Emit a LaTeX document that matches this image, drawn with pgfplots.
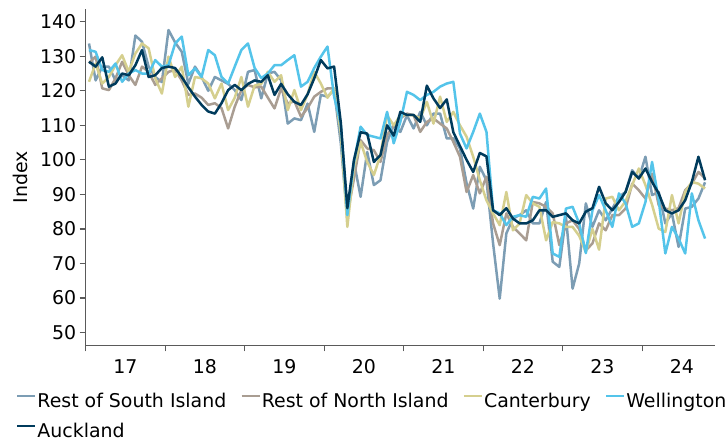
\documentclass[border=0pt]{standalone}
\usepackage{pgfplots}
\pgfplotsset{compat=1.18}
\usepackage{pgfplotstable}
\usepackage{fontspec}
\setmainfont{DejaVu Sans}
\definecolor{crsi}{RGB}{124,157,180}
\definecolor{crni}{RGB}{169,157,146}
\definecolor{ccan}{RGB}{213,207,142}
\definecolor{cwel}{RGB}{84,196,234}
\definecolor{cakl}{RGB}{0,59,92}
\definecolor{caxis}{RGB}{90,90,90}
\pgfplotstableread{
i rsi rni can wel akl
0 133.7 128 122.6 131.8 128.4
1 123 129.9 127.9 131.3 127
2 127 120.7 122.1 126 129.7
3 127 120.2 124 125.5 121.2
4 123 123.6 127.4 127.9 122.1
5 124.5 128.4 130.3 122.6 125
6 123 124.5 125.5 125 124.5
7 136 121.7 130.8 126 127.4
8 134.2 127 133.7 125 131.8
9 127 125.5 132.3 125 124
10 124 121.7 123.6 128.9 124.5
11 122.5 123.6 119.2 127 126.6
12 137.6 125.5 129.9 127.4 127
13 134 126 124 133.7 126.6
14 131.3 123 127 135.7 124
15 122 118.8 115.4 124.5 121
16 127 119.2 124 126.5 118.3
17 124 118 123.6 124 115.9
18 120 115.9 122.1 131.8 114
19 124 116.4 117.8 130.3 113.4
20 123 115 122.1 124 116.4
21 122 109.1 114.4 122.1 120.2
22 120.2 115.4 118 127 121.7
23 117.3 120.2 124 131.8 120.2
24 125.5 121.7 115.4 133.7 122
25 126 121 121.5 126.6 123
26 117.8 121.2 122 123.7 122.6
27 125 118 125.5 125 124.5
28 125.5 114.9 122.6 127.4 118.8
29 123.1 120.7 124.5 127.4 122
30 110.5 116.3 114.4 128.9 119
31 112 117 120.2 130.3 116.8
32 111.5 112.5 114.4 121.2 115.9
33 116.3 115 119 122.6 119
34 108.1 118.3 125.5 126.6 123.6
35 118.8 119.7 122.1 129.9 128.9
36 118.3 120.7 118 132.8 126.5
37 120.2 120.7 120.7 118.3 127
38 105 110 108 110.5 111
39 83 84 80.6 84 86
40 99.4 94.6 98 99.4 100
41 89.3 105.7 105.2 109.6 108
42 102.3 103.3 99.4 107.2 107.6
43 92.7 102.8 95.6 106.7 99.4
44 94.1 99.4 101.4 106.2 101.4
45 105.2 107.2 112.9 113.9 110
46 110 110 110 104.8 107
47 108.1 112 112.9 111 113.9
48 112.9 113.4 113 119.7 113
49 109.1 112.9 112.9 118.8 113
50 113.9 108.1 112 117.3 111
51 110 111 116.8 118.8 121.5
52 113.4 112 110.5 119.7 117.8
53 113.4 110.5 118.3 121.2 115
54 106.2 109.1 111 122.1 117.5
55 106.2 105.2 113.9 122.6 108
56 103.3 100.9 110 107.6 104
57 93.2 90.7 106.7 103.3 100
58 85.9 95.6 100.9 108.1 96.5
59 98 90.3 94.1 113.4 102
60 94.1 95.1 88.3 108.1 101
61 75.8 81.6 84.5 85.4 85.4
62 59.8 75.3 81.1 84.5 84
63 78.7 84.5 90.7 81.1 86
64 83 80.6 79.6 83.5 83
65 84 78.7 81.6 84 81.6
66 85.4 76.7 89.8 83.5 81.6
67 81.6 87.8 87.4 89.3 82.5
68 81.6 87.4 86.4 88.8 85.4
69 87.8 86.4 76.7 91.7 85.4
70 70.5 84.5 82 72.9 83.5
71 69 75.3 81.6 71.9 84
72 83.5 81.6 80.6 85.9 84.5
73 62.7 82.5 80.6 86.4 82.5
74 70 80 78 81.6 81.6
75 87.4 73.8 73.3 73 85
76 80.6 75.8 80 85.4 86
77 85.4 81.6 74 89.8 92.2
78 82.5 79.6 88.8 85.4 87.4
79 85.9 84 89.3 80.6 85.4
80 89.3 84 85.4 90.3 87.8
81 90.7 85.9 88 87.4 90.7
82 97 93.1 92.7 80.6 96.5
83 94.6 91.2 97.5 81.6 94.6
84 100.9 88.8 92.7 87.8 97.5
85 89.8 96 87 99.4 93.6
86 90.7 86.9 80.1 88.3 90.3
87 81.6 85.9 79.1 72.9 85.4
88 84.5 85.4 89.8 80.6 84.5
89 74.8 86 81.6 77.2 85.4
90 85.9 91.2 90.7 72.9 88.3
91 86.4 93.1 93.6 90.3 93.6
92 88.8 96.5 93.1 82.5 100.9
93 93.5 94.6 91.7 77.2 94.1
}\data
\begin{document}
\begin{tikzpicture}
\path[use as bounding box] (-85.7bp,-99.7bp) rectangle (642.3bp,345.3bp);
\begin{axis}[
  at={(0,0)}, anchor=south west,
  scale only axis, width=629.3bp, height=336bp,
  xmin=0, xmax=95, ymin=46.3, ymax=143.6,
  axis lines=left,
  axis line style={-, draw=caxis, line width=1.2bp},
  tick align=outside,
  tick style={draw=caxis, line width=1.2bp},
  major tick length=6bp,
  xtick={0,12,...,84},
  xticklabels={},
  extra x ticks={6,18,...,90},
  extra x tick labels={17,18,19,20,21,22,23,24},
  extra x tick style={major tick length=0bp, xticklabel style={yshift=-11bp}},
  ytick={50,60,...,140},
  /pgf/number format/assume math mode=true,
  tick label style={font=\fontsize{19}{22}\selectfont, text=black},
  ylabel={Index},
  ylabel style={font=\fontsize{19}{22}\selectfont, at={(axis description cs:-0.1044,0.5)}, anchor=center},
  legend columns=4,
  legend cell align=left,
  legend style={at={(-0.1108,-0.1440)}, anchor=north west, draw=none, fill=none,
    inner sep=0pt, outer sep=0pt,
    font=\fontsize{19}{22}\selectfont,
    nodes={inner xsep=1bp, inner ysep=0bp, text height=14bp, text depth=1bp},
    row sep=15bp,
    /tikz/every even column/.append style={column sep=13bp}},
  legend image code/.code={\draw[#1] (0bp,5bp) -- (18bp,5bp);},
  every axis plot/.append style={line width=2.5bp, line join=round, mark=none},
]
\addplot[crsi] table[x expr=\thisrow{i}+0.5, y=rsi] {\data};
\addlegendentry{Rest of South Island}
\addplot[crni] table[x expr=\thisrow{i}+0.5, y=rni] {\data};
\addlegendentry{Rest of North Island}
\addplot[ccan] table[x expr=\thisrow{i}+0.5, y=can] {\data};
\addlegendentry{Canterbury}
\addplot[cwel] table[x expr=\thisrow{i}+0.5, y=wel] {\data};
\addlegendentry{Wellington}
\addplot[cakl] table[x expr=\thisrow{i}+0.5, y=akl] {\data};
\addlegendentry{Auckland}
\end{axis}
\end{tikzpicture}
\end{document}
